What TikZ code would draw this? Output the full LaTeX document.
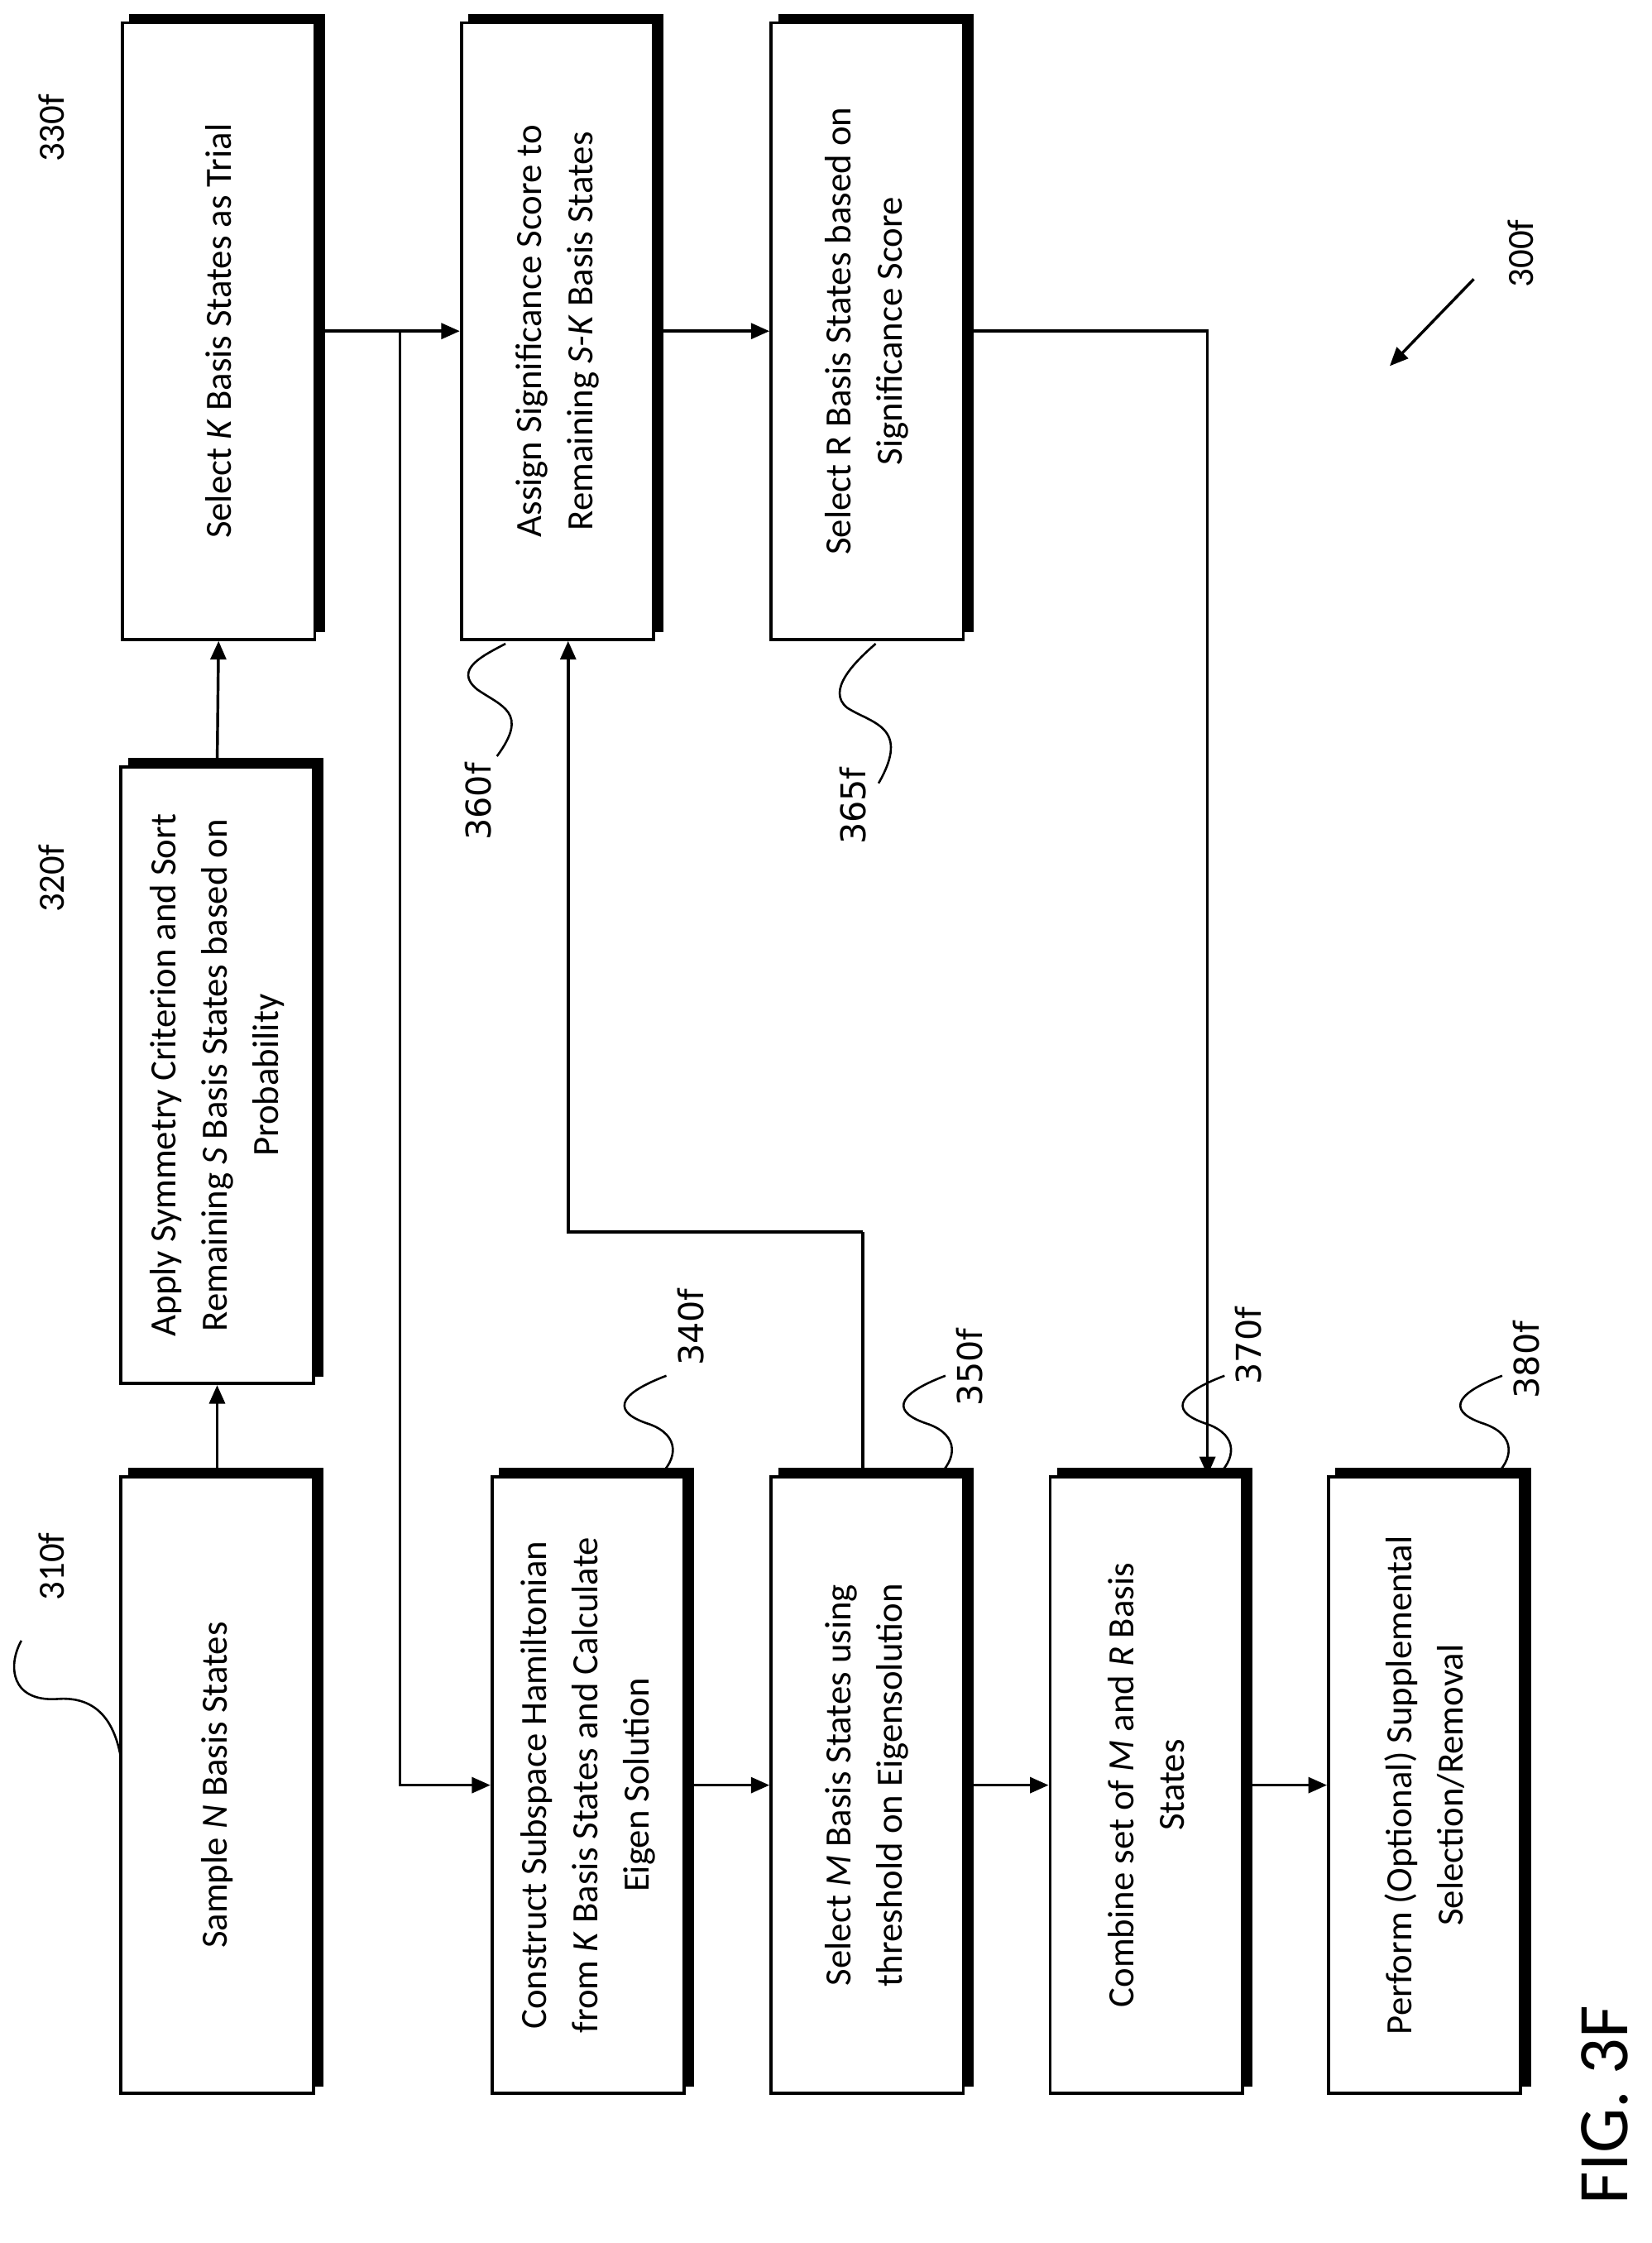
\documentclass[tikz,border=0pt]{standalone}
\usepackage{fontspec}
\setmainfont{Carlito}
\newfontfamily\dvs{DejaVu Sans}
\usetikzlibrary{arrows.meta}
\begin{document}
\begin{tikzpicture}[x=1pt,y=-1pt,
  box/.style={draw,line width=2.2pt,minimum width=135pt,minimum height=433pt,inner sep=0pt},
  btxt/.style={rotate=90,align=center,font=\fontsize{26}{36}\selectfont},
  shad/.style={line width=6pt,line join=miter},
  arr/.style={line width=2pt,-{Triangle[length=13pt,width=11pt]}},
  conn/.style={line width=2pt},
  sq/.style={line width=1.5pt},
  lab/.style={rotate=90,font=\fontsize{26}{30}\selectfont},
  labd/.style={rotate=90,font=\dvs\fontsize{24}{28}\selectfont}]
\useasboundingbox (0,0) rectangle (1160,1575);
\newcommand\mkbox[4]{%
  \node[box] (#1) at (#2,#3) {};
  \node[btxt] at (#1.center) {#4};
  \draw[shad] ([xshift=6pt,yshift=2pt]#1.north west) -- ([xshift=3pt,yshift=2pt]#1.north east) -- ([xshift=3pt,yshift=6pt]#1.south east);}
\mkbox{b310}{152.5}{1253.5}{Sample \textit{N} Basis States}
\mkbox{b320}{152.5}{755}{Apply Symmetry Criterion and Sort\\Remaining \textit{S} Basis States based on\\Probability}
\mkbox{b330}{153.5}{232.5}{Select \textit{K} Basis States as Trial}
\mkbox{b360}{391.5}{232.5}{Assign Significance Score to\\Remaining \textit{S-K} Basis States}
\mkbox{b365}{609}{232.5}{Select R Basis States based on\\Significance Score}
\mkbox{b340}{413}{1253.5}{Construct Subspace Hamiltonian\\from \textit{K} Basis States and Calculate\\Eigen Solution}
\mkbox{b350}{609}{1253.5}{Select \textit{M} Basis States using\\threshold on Eigensolution}
\mkbox{b370}{805}{1253.5}{Combine set of \textit{M} and \textit{R} Basis\\States}
\mkbox{b380}{1000.5}{1253.5}{Perform (Optional) Supplemental\\Selection/Removal}
% connectors
\draw[arr] (b310.north) -- (b320.south);
\draw[arr] (b320.north) -- (b330.south);
\draw[arr] (b330.east) -- (b360.west);
\coordinate (j1) at (281,232.5);
\draw[arr] (j1) |- (b340.west);
\draw[arr] (b360.east) -- (b365.west);
\draw[arr] (b365.east) -| ([xshift=43pt]b370.north);
\draw[arr] (b340.east) -- (b350.west);
\draw[arr] (b350.east) -- (b370.west);
\draw[arr] (b370.east) -- (b380.west);
\coordinate (fb) at (606,865);
\draw[conn] ([xshift=-3pt]b350.north) -- (fb);
\draw[arr] (fb) -| ([xshift=7.5pt]b360.south);
% upper-left labels
\foreach \n/\dy/\ly in {310f/0/1100, 320f/-497/617, 330f/-1000/90}{
  \draw[sq,yshift=\dy] (15,1152) .. controls (5,1170) and (8,1195) .. (40,1193) .. controls (65,1191) and (80,1205) .. (85,1235);
  \node[lab] (l\n) at (36,\ly) {\n};
}
% lower labels
\foreach \n/\xo/\ly in {340f/346/932, 350f/542/960, 370f/738/945, 380f/933/955}{
  \draw[sq] (\xo+116,1037) .. controls (\xo+130,1025) and (\xo+132,1008) .. (\xo+110,1000) .. controls (\xo+85,992) and (\xo+85,980) .. (\xo+122,966);
  \node[labd] (l\n) at (\xo+139,\ly) {\n};
}
% 360f, 365f
\draw[sq] (355,452) .. controls (340,460) and (318,470) .. (335,484) .. controls (352,496) and (372,500) .. (349,531);
\node[labd] (l360f) at (336,563) {360f};
\draw[sq] (615,452) .. controls (600,465) and (580,485) .. (595,497) .. controls (612,508) and (640,510) .. (617,550);
\node[labd] (l365f) at (599,566) {365f};
% 300f
\node[lab] (l300f) at (1068,178) {300f};
\coordinate (a300) at (1035,196);
\draw[line width=2pt,-{Triangle[length=13pt,width=11pt]}] (a300) -- (976,257);
% figure label
\node[rotate=90,font=\fontsize{50}{56}\selectfont] (fig) at (1127,1478) {FIG. 3F};
\end{tikzpicture}
\end{document}
